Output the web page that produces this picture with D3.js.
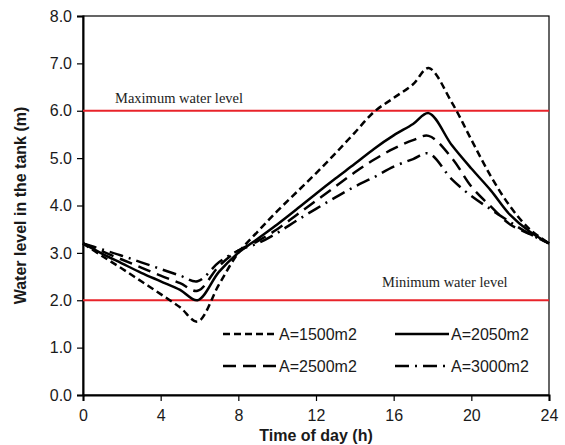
<!DOCTYPE html>
<html>
<head>
<meta charset="utf-8">
<script src="https://cdn.jsdelivr.net/npm/d3@7"></script>
<style>
  body { margin: 0; background: #fff; }
  text { font-family: "Liberation Sans", Arial, sans-serif; }
</style>
</head>
<body>
<script>
// hours (peak / trough samples sit slightly before 6 h and 18 h)
let hours = [0, 1, 2, 3, 4, 5, 5.9, 7, 8, 9, 10, 11, 12, 13, 14, 15, 16, 17, 17.8, 19, 20, 21, 22, 23, 24]

let a1500 = [3.2, 2.93, 2.67, 2.4, 2.13, 1.85, 1.55, 2.33, 3.0, 3.45, 3.88, 4.28, 4.68, 5.1, 5.54, 5.98, 6.27, 6.56, 6.9, 6.17, 5.39, 4.62, 3.98, 3.5, 3.2]
let a2050 = [3.2, 2.98, 2.78, 2.58, 2.4, 2.22, 2.0, 2.6, 3.0, 3.3, 3.6, 3.92, 4.25, 4.57, 4.88, 5.2, 5.48, 5.72, 5.95, 5.27, 4.78, 4.32, 3.8, 3.45, 3.2]
let a2500 = [3.2, 3.03, 2.86, 2.69, 2.52, 2.36, 2.2, 2.72, 3.05, 3.25, 3.5, 3.8, 4.1, 4.4, 4.7, 4.97, 5.2, 5.38, 5.47, 5.0, 4.4, 3.98, 3.6, 3.4, 3.2]
let a3000 = [3.2, 3.07, 2.94, 2.8, 2.66, 2.52, 2.4, 2.8, 3.05, 3.2, 3.42, 3.68, 3.93, 4.17, 4.4, 4.6, 4.82, 4.98, 5.1, 4.55, 4.2, 3.92, 3.65, 3.4, 3.2]

let seriesNames = ['A=1500m2', 'A=2050m2', 'A=2500m2', 'A=3000m2']
let xTicks = [0, 4, 8, 12, 16, 20, 24]
let yTicks = [0, 1, 2, 3, 4, 5, 6, 7, 8]
let maxLevel = 6
let minLevel = 2

let series = [
    { name: seriesNames[0], values: a1500, dash: '7,4' },
    { name: seriesNames[1], values: a2050, dash: null },
    { name: seriesNames[2], values: a2500, dash: '13,7' },
    { name: seriesNames[3], values: a3000, dash: '14,6,2,6' }
]

var margin = { top: 16, right: 16, bottom: 50, left: 83 },
    width = 565 - margin.left - margin.right,
    height = 445 - margin.top - margin.bottom;

var svg = d3.select('body').append('svg')
    .attr('width', 565)
    .attr('height', 445)
    .append('g')
    .attr('transform', 'translate(' + margin.left + ',' + margin.top + ')');

var x = d3.scaleLinear().domain([0, 24]).range([0, width])
var y = d3.scaleLinear().domain([0, 8]).range([height, 0])

// box
svg.append('rect')
    .attr('width', width)
    .attr('height', height)
    .attr('fill', 'none')
    .attr('stroke', '#000')
    .attr('stroke-width', 1.2)

var xAxis = d3.axisBottom(x).tickValues(xTicks).tickSize(6).tickFormat(d3.format('d'))
var yAxis = d3.axisLeft(y).tickValues(yTicks).tickSize(6).tickFormat(d3.format('.1f'))

var gx = svg.append('g')
    .attr('transform', 'translate(0,' + height + ')')
    .call(xAxis)
gx.select('.domain').attr('stroke-width', 2)
gx.selectAll('.tick line').attr('stroke-width', 1.2)
gx.selectAll('.tick text').attr('font-size', 16).attr('fill', '#1a1a1a').attr('dy', '1.05em')

var gy = svg.append('g').call(yAxis)
gy.select('.domain').attr('stroke-width', 2)
gy.selectAll('.tick line').attr('stroke-width', 1.2)
gy.selectAll('.tick text').attr('font-size', 16).attr('fill', '#1a1a1a').attr('x', -11)

// red limit lines
svg.selectAll('.limit')
    .data([maxLevel, minLevel])
    .enter()
    .append('line')
    .attr('x1', 0)
    .attr('x2', width)
    .attr('y1', d => y(d))
    .attr('y2', d => y(d))
    .attr('stroke', '#e8232a')
    .attr('stroke-width', 2)

svg.append('text')
    .attr('x', 32)
    .attr('y', y(maxLevel) - 8)
    .attr('font-size', 14.5)
    .attr('fill', '#222')
    .style('font-family', '"Liberation Serif", "Times New Roman", serif')
    .text('Maximum water level')

svg.append('text')
    .attr('x', 299)
    .attr('y', y(minLevel) - 13)
    .attr('font-size', 14.5)
    .attr('fill', '#222')
    .style('font-family', '"Liberation Serif", "Times New Roman", serif')
    .text('Minimum water level')

var line = d3.line()
    .x((d, i) => x(hours[i]))
    .y(d => y(d))
    .curve(d3.curveCatmullRom.alpha(0.5))

svg.selectAll('.series')
    .data(series)
    .enter()
    .append('path')
    .attr('d', d => line(d.values))
    .attr('fill', 'none')
    .attr('stroke', '#000')
    .attr('stroke-width', 2.5)
    .attr('stroke-dasharray', d => d.dash)

// legend
var legendPos = [[140, 318], [312, 318], [140, 350], [312, 350]]
var leg = svg.selectAll('.legend')
    .data(series)
    .enter()
    .append('g')
    .attr('transform', (d, i) => 'translate(' + legendPos[i][0] + ',' + legendPos[i][1] + ')')
leg.append('line')
    .attr('x1', 0).attr('x2', 54)
    .attr('stroke', '#000')
    .attr('stroke-width', 2.5)
    .attr('stroke-dasharray', d => d.dash)
leg.append('text')
    .attr('x', 56)
    .attr('dy', '0.35em')
    .attr('font-size', 16)
    .attr('fill', '#1a1a1a')
    .text(d => d.name)

// axis titles
svg.append('text')
    .attr('x', width / 2)
    .attr('y', height + 46)
    .attr('text-anchor', 'middle')
    .attr('font-size', 16)
    .attr('font-weight', 'bold')
    .attr('fill', '#1a1a1a')
    .text('Time of day (h)')

svg.append('text')
    .attr('transform', 'translate(' + (-57) + ',' + (height / 2) + ') rotate(-90)')
    .attr('text-anchor', 'middle')
    .attr('font-size', 16)
    .attr('font-weight', 'bold')
    .attr('fill', '#1a1a1a')
    .text('Water level in the tank (m)')
</script>
</body>
</html>
